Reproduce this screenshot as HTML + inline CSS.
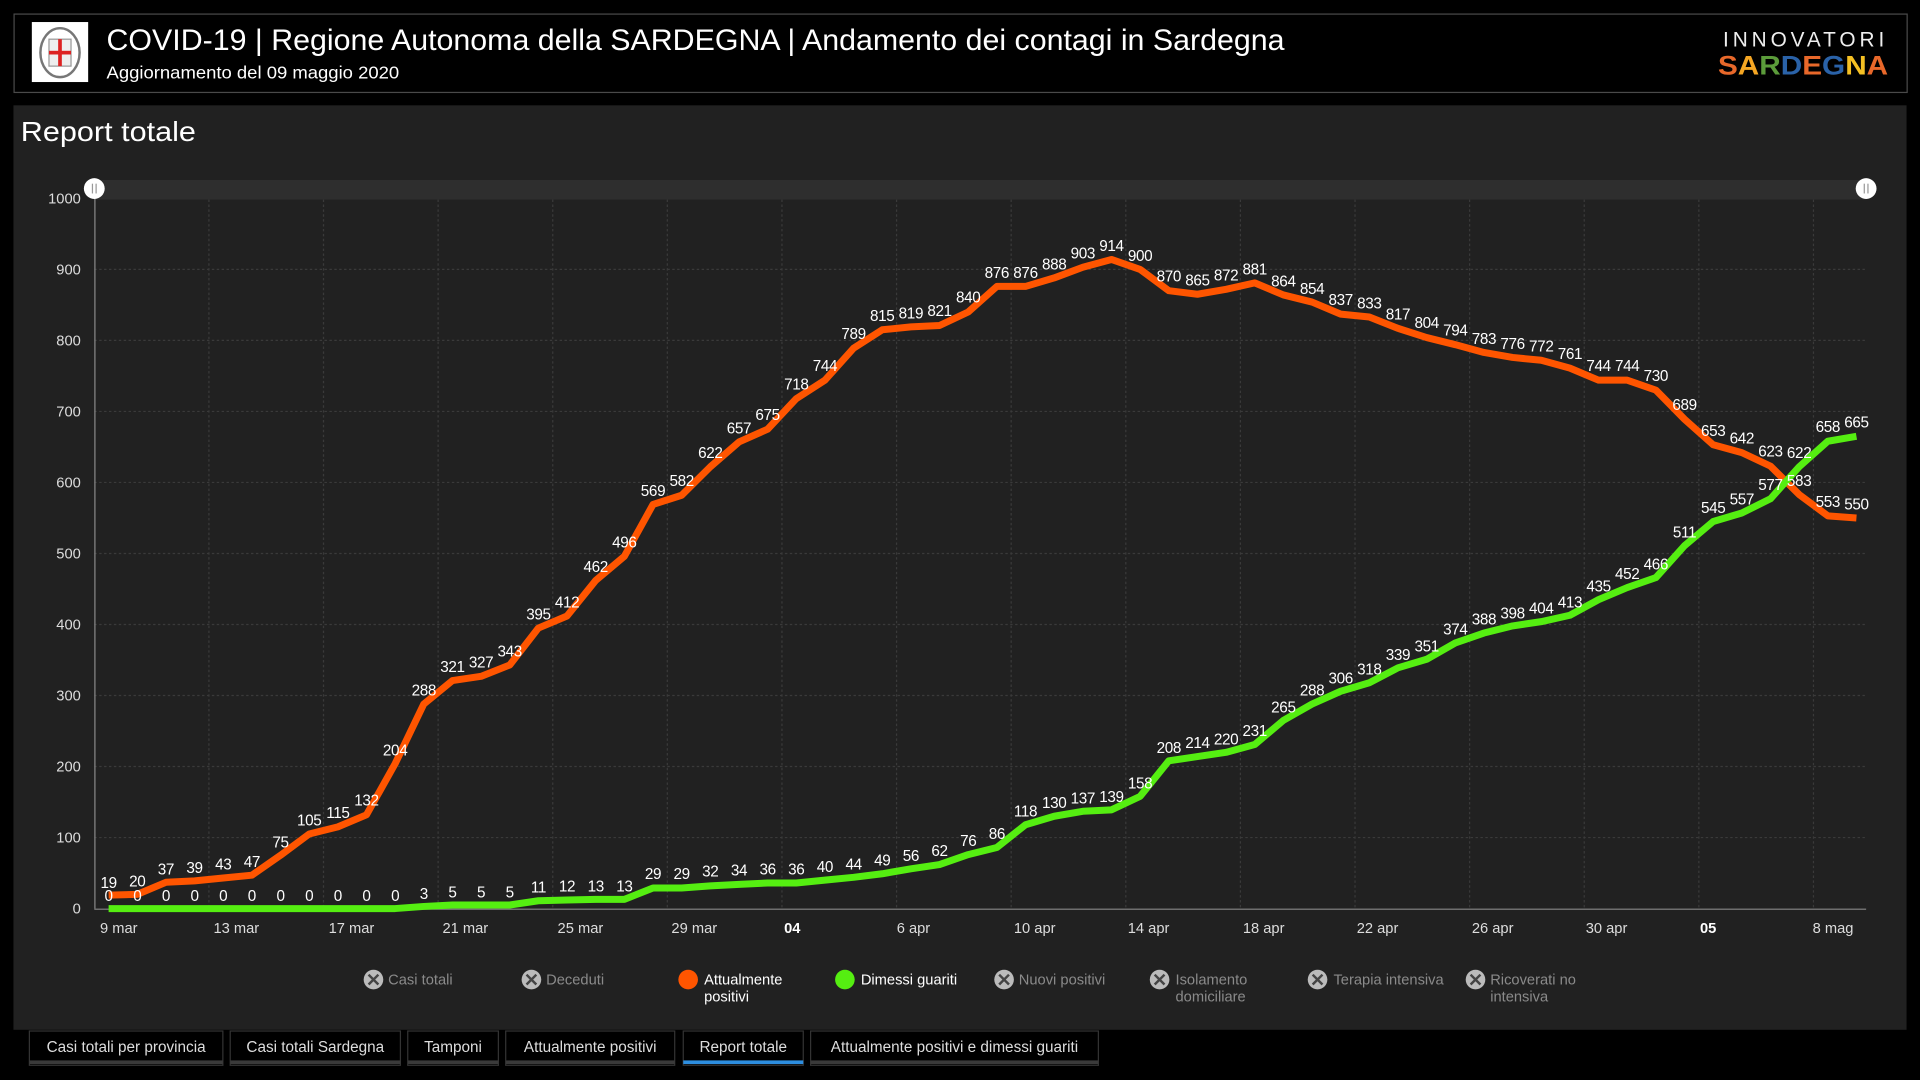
<!DOCTYPE html>
<html><head><meta charset="utf-8"><style>
html,body{margin:0;padding:0;background:#000;width:1920px;height:1080px;overflow:hidden}
svg{display:block}
text{font-family:"Liberation Sans",sans-serif}
.yl{font-size:12px;fill:#ddd;text-anchor:end}
.xl{font-size:12px;fill:#ddd;text-anchor:middle}
.dl text{font-size:12.5px;fill:#fff;text-anchor:middle;letter-spacing:-0.3px}
.lg{font-size:12px;fill:#8a8a8a}
.tab{font-size:12.5px;fill:#ddd;text-anchor:middle}
</style></head><body>
<svg width="1920" height="1080" viewBox="0 0 1568 882" preserveAspectRatio="none">
<rect width="1568" height="882" fill="#000"/>
<!-- header -->
<rect x="11.5" y="11.5" width="1546" height="64" fill="#000" stroke="#4a4a4a"/>
<rect x="26" y="18" width="46" height="49" fill="#fff"/>
<ellipse cx="49" cy="43" rx="16" ry="20" fill="none" stroke="#777" stroke-width="2"/>
<rect x="40" y="32" width="18" height="22" fill="#eee" stroke="#999"/>
<rect x="47.5" y="32" width="3" height="22" fill="#d22"/>
<rect x="40" y="41.5" width="18" height="3" fill="#d22"/>
<text x="87" y="41" font-size="24" fill="#fff" textLength="962" lengthAdjust="spacingAndGlyphs">COVID-19 | Regione Autonoma della SARDEGNA | Andamento dei contagi in Sardegna</text>
<text x="87" y="64" font-size="14" fill="#fff" textLength="239" lengthAdjust="spacingAndGlyphs">Aggiornamento del 09 maggio 2020</text>
<text x="1542" y="38" font-size="17" fill="#eee" text-anchor="end" letter-spacing="3.2">INNOVATORI</text>
<text x="1403" y="61" font-size="22" font-weight="bold" textLength="139" lengthAdjust="spacingAndGlyphs"><tspan fill="#e8682a">S</tspan><tspan fill="#f5a623">A</tspan><tspan fill="#5b9b3a">R</tspan><tspan fill="#2a62a8">D</tspan><tspan fill="#e8682a">E</tspan><tspan fill="#2a62a8">G</tspan><tspan fill="#f5c023">N</tspan><tspan fill="#e8682a">A</tspan></text>
<!-- panel -->
<rect x="11" y="86" width="1546" height="755" fill="#212121"/>
<text x="17" y="115" font-size="23" fill="#fff" textLength="143" lengthAdjust="spacingAndGlyphs">Report totale</text>
<!-- scrollbar -->
<rect x="77" y="147" width="1447" height="16" fill="#2e2e2e"/>
<!-- grid -->
<g stroke="#3a3a3a" stroke-width="1" stroke-dasharray="2,2">
<line x1="77" x2="1524" y1="220" y2="220"/><line x1="77" x2="1524" y1="278" y2="278"/>
<line x1="77" x2="1524" y1="336" y2="336"/><line x1="77" x2="1524" y1="394" y2="394"/>
<line x1="77" x2="1524" y1="452" y2="452"/><line x1="77" x2="1524" y1="510" y2="510"/>
<line x1="77" x2="1524" y1="568" y2="568"/><line x1="77" x2="1524" y1="626" y2="626"/>
<line x1="77" x2="1524" y1="684" y2="684"/>
<line x1="170.6" x2="170.6" y1="163" y2="742"/><line x1="264.2" x2="264.2" y1="163" y2="742"/>
<line x1="357.8" x2="357.8" y1="163" y2="742"/><line x1="451.4" x2="451.4" y1="163" y2="742"/>
<line x1="545" x2="545" y1="163" y2="742"/><line x1="638.6" x2="638.6" y1="163" y2="742"/>
<line x1="732.2" x2="732.2" y1="163" y2="742"/><line x1="825.8" x2="825.8" y1="163" y2="742"/>
<line x1="919.4" x2="919.4" y1="163" y2="742"/><line x1="1013" x2="1013" y1="163" y2="742"/>
<line x1="1106.6" x2="1106.6" y1="163" y2="742"/><line x1="1200.2" x2="1200.2" y1="163" y2="742"/>
<line x1="1293.8" x2="1293.8" y1="163" y2="742"/><line x1="1387.4" x2="1387.4" y1="163" y2="742"/>
<line x1="1481" x2="1481" y1="163" y2="742"/>
</g>
<line x1="77.5" x2="77.5" y1="162" y2="742" stroke="#888"/>
<line x1="77" x2="1524" y1="742.5" y2="742.5" stroke="#888"/>
<circle cx="77" cy="154" r="8.5" fill="#fff"/><line x1="75.5" x2="75.5" y1="150" y2="158" stroke="#999"/><line x1="78.5" x2="78.5" y1="150" y2="158" stroke="#999"/>
<circle cx="1524" cy="154" r="8.5" fill="#fff"/><line x1="1522.5" x2="1522.5" y1="150" y2="158" stroke="#999"/><line x1="1525.5" x2="1525.5" y1="150" y2="158" stroke="#999"/>
<!-- y labels -->
<text class="yl" x="66" y="166">1000</text><text class="yl" x="66" y="224">900</text>
<text class="yl" x="66" y="282">800</text><text class="yl" x="66" y="340">700</text>
<text class="yl" x="66" y="398">600</text><text class="yl" x="66" y="456">500</text>
<text class="yl" x="66" y="514">400</text><text class="yl" x="66" y="572">300</text>
<text class="yl" x="66" y="630">200</text><text class="yl" x="66" y="688">100</text>
<text class="yl" x="66" y="746">0</text>
<!-- x labels -->
<g class="xl">
<text x="97" y="762">9 mar</text><text x="193" y="762">13 mar</text><text x="287" y="762">17 mar</text>
<text x="380" y="762">21 mar</text><text x="474" y="762">25 mar</text><text x="567" y="762">29 mar</text>
<text x="647" y="762" font-weight="bold" fill="#fff">04</text><text x="746" y="762">6 apr</text>
<text x="845" y="762">10 apr</text><text x="938" y="762">14 apr</text><text x="1032" y="762">18 apr</text>
<text x="1125" y="762">22 apr</text><text x="1219" y="762">26 apr</text><text x="1312" y="762">30 apr</text>
<text x="1395" y="762" font-weight="bold" fill="#fff">05</text><text x="1497" y="762">8 mag</text>
</g>
<!-- series -->
<g transform="translate(88.7,742) scale(23.4,-0.58)" fill="none">
<polyline vector-effect="non-scaling-stroke" stroke="#ff5500" stroke-width="7" stroke-linejoin="round" points="0,19 1,20 2,37 3,39 4,43 5,47 6,75 7,105 8,115 9,132 10,204 11,288 12,321 13,327 14,343 15,395 16,412 17,462 18,496 19,569 20,582 21,622 22,657 23,675 24,718 25,744 26,789 27,815 28,819 29,821 30,840 31,876 32,876 33,888 34,903 35,914 36,900 37,870 38,865 39,872 40,881 41,864 42,854 43,837 44,833 45,817 46,804 47,794 48,783 49,776 50,772 51,761 52,744 53,744 54,730 55,689 56,653 57,642 58,623 59,583 60,553 61,550"/>
<polyline vector-effect="non-scaling-stroke" stroke="#55ee11" stroke-width="7" stroke-linejoin="round" points="0,0 1,0 2,0 3,0 4,0 5,0 6,0 7,0 8,0 9,0 10,0 11,3 12,5 13,5 14,5 15,11 16,12 17,13 18,13 19,29 20,29 21,32 22,34 23,36 24,36 25,40 26,44 27,49 28,56 29,62 30,76 31,86 32,118 33,130 34,137 35,139 36,158 37,208 38,214 39,220 40,231 41,265 42,288 43,306 44,318 45,339 46,351 47,374 48,388 49,398 50,404 51,413 52,435 53,452 54,466 55,511 56,545 57,557 58,577 59,622 60,658 61,665"/>
</g>
<!-- orange labels -->
<g class="dl">
<text x="88.7" y="725">19</text><text x="112.1" y="724">20</text><text x="135.5" y="714">37</text><text x="158.9" y="713">39</text><text x="182.3" y="710">43</text><text x="205.7" y="708">47</text><text x="229.1" y="692">75</text><text x="252.5" y="674">105</text><text x="275.9" y="668">115</text><text x="299.3" y="658">132</text><text x="322.7" y="617">204</text><text x="346.1" y="568">288</text><text x="369.5" y="549">321</text><text x="392.9" y="545">327</text><text x="416.3" y="536">343</text><text x="439.7" y="506">395</text><text x="463.1" y="496">412</text><text x="486.5" y="467">462</text><text x="509.9" y="447">496</text><text x="533.3" y="405">569</text><text x="556.7" y="397">582</text><text x="580.1" y="374">622</text><text x="603.5" y="354">657</text><text x="626.9" y="343">675</text><text x="650.3" y="318">718</text><text x="673.7" y="303">744</text><text x="697.1" y="277">789</text><text x="720.5" y="262">815</text><text x="743.9" y="260">819</text><text x="767.3" y="258">821</text><text x="790.7" y="247">840</text><text x="814.1" y="227">876</text><text x="837.5" y="227">876</text><text x="860.9" y="220">888</text><text x="884.3" y="211">903</text><text x="907.7" y="205">914</text><text x="931.1" y="213">900</text><text x="954.5" y="230">870</text><text x="977.9" y="233">865</text><text x="1001.3" y="229">872</text><text x="1024.7" y="224">881</text><text x="1048.1" y="234">864</text><text x="1071.5" y="240">854</text><text x="1094.9" y="249">837</text><text x="1118.3" y="252">833</text><text x="1141.7" y="261">817</text><text x="1165.1" y="268">804</text><text x="1188.5" y="274">794</text><text x="1211.9" y="281">783</text><text x="1235.3" y="285">776</text><text x="1258.7" y="287">772</text><text x="1282.1" y="293">761</text><text x="1305.5" y="303">744</text><text x="1328.9" y="303">744</text><text x="1352.3" y="311">730</text><text x="1375.7" y="335">689</text><text x="1399.1" y="356">653</text><text x="1422.5" y="362">642</text><text x="1445.9" y="373">623</text><text x="1469.3" y="397">583</text><text x="1492.7" y="414">553</text><text x="1516.1" y="416">550</text>
</g>
<!-- green labels -->
<g class="dl">
<text x="88.7" y="736">0</text><text x="112.1" y="736">0</text><text x="135.5" y="736">0</text><text x="158.9" y="736">0</text><text x="182.3" y="736">0</text><text x="205.7" y="736">0</text><text x="229.1" y="736">0</text><text x="252.5" y="736">0</text><text x="275.9" y="736">0</text><text x="299.3" y="736">0</text><text x="322.7" y="736">0</text><text x="346.1" y="734">3</text><text x="369.5" y="733">5</text><text x="392.9" y="733">5</text><text x="416.3" y="733">5</text><text x="439.7" y="729">11</text><text x="463.1" y="728">12</text><text x="486.5" y="728">13</text><text x="509.9" y="728">13</text><text x="533.3" y="718">29</text><text x="556.7" y="718">29</text><text x="580.1" y="716">32</text><text x="603.5" y="715">34</text><text x="626.9" y="714">36</text><text x="650.3" y="714">36</text><text x="673.7" y="712">40</text><text x="697.1" y="710">44</text><text x="720.5" y="707">49</text><text x="743.9" y="703">56</text><text x="767.3" y="699">62</text><text x="790.7" y="691">76</text><text x="814.1" y="685">86</text><text x="837.5" y="667">118</text><text x="860.9" y="660">130</text><text x="884.3" y="656">137</text><text x="907.7" y="655">139</text><text x="931.1" y="644">158</text><text x="954.5" y="615">208</text><text x="977.9" y="611">214</text><text x="1001.3" y="608">220</text><text x="1024.7" y="601">231</text><text x="1048.1" y="582">265</text><text x="1071.5" y="568">288</text><text x="1094.9" y="558">306</text><text x="1118.3" y="551">318</text><text x="1141.7" y="539">339</text><text x="1165.1" y="532">351</text><text x="1188.5" y="518">374</text><text x="1211.9" y="510">388</text><text x="1235.3" y="505">398</text><text x="1258.7" y="501">404</text><text x="1282.1" y="496">413</text><text x="1305.5" y="483">435</text><text x="1328.9" y="473">452</text><text x="1352.3" y="465">466</text><text x="1375.7" y="439">511</text><text x="1399.1" y="419">545</text><text x="1422.5" y="412">557</text><text x="1445.9" y="400">577</text><text x="1469.3" y="374">622</text><text x="1492.7" y="353">658</text><text x="1516.1" y="349">665</text>
</g>
<!-- legend -->
<g>
<circle cx="305" cy="800" r="8" fill="#bbb"/><path d="M301,796 L309,804 M309,796 L301,804" stroke="#444" stroke-width="2"/>
<text class="lg" x="317" y="804">Casi totali</text>
<circle cx="434" cy="800" r="8" fill="#bbb"/><path d="M430,796 L438,804 M438,796 L430,804" stroke="#444" stroke-width="2"/>
<text class="lg" x="446" y="804">Deceduti</text>
<circle cx="562" cy="800" r="8" fill="#ff5500"/>
<text class="lg" x="575" y="804" style="fill:#fff">Attualmente</text><text class="lg" x="575" y="818" style="fill:#fff">positivi</text>
<circle cx="690" cy="800" r="8" fill="#55ee11"/>
<text class="lg" x="703" y="804" style="fill:#fff">Dimessi guariti</text>
<circle cx="820" cy="800" r="8" fill="#bbb"/><path d="M816,796 L824,804 M824,796 L816,804" stroke="#444" stroke-width="2"/>
<text class="lg" x="832" y="804">Nuovi positivi</text>
<circle cx="947" cy="800" r="8" fill="#bbb"/><path d="M943,796 L951,804 M951,796 L943,804" stroke="#444" stroke-width="2"/>
<text class="lg" x="960" y="804">Isolamento</text><text class="lg" x="960" y="818">domiciliare</text>
<circle cx="1076" cy="800" r="8" fill="#bbb"/><path d="M1072,796 L1080,804 M1080,796 L1072,804" stroke="#444" stroke-width="2"/>
<text class="lg" x="1089" y="804">Terapia intensiva</text>
<circle cx="1205" cy="800" r="8" fill="#bbb"/><path d="M1201,796 L1209,804 M1209,796 L1201,804" stroke="#444" stroke-width="2"/>
<text class="lg" x="1217" y="804">Ricoverati no</text><text class="lg" x="1217" y="818">intensiva</text>
</g>
<!-- tabs -->
<g>
<rect x="24" y="842" width="158" height="28" fill="#000" stroke="#333"/><rect x="24" y="866" width="158" height="3" fill="#3a3a3a"/><text class="tab" x="103" y="859">Casi totali per provincia</text>
<rect x="188" y="842" width="139" height="28" fill="#000" stroke="#333"/><rect x="188" y="866" width="139" height="3" fill="#3a3a3a"/><text class="tab" x="257.5" y="859">Casi totali Sardegna</text>
<rect x="333" y="842" width="74" height="28" fill="#000" stroke="#333"/><rect x="333" y="866" width="74" height="3" fill="#3a3a3a"/><text class="tab" x="370" y="859">Tamponi</text>
<rect x="413" y="842" width="138" height="28" fill="#000" stroke="#333"/><rect x="413" y="866" width="138" height="3" fill="#3a3a3a"/><text class="tab" x="482" y="859">Attualmente positivi</text>
<rect x="558" y="842" width="98" height="28" fill="#000" stroke="#333"/><rect x="558" y="866" width="98" height="3" fill="#2d8ee0"/><text class="tab" x="607" y="859">Report totale</text>
<rect x="662" y="842" width="235" height="28" fill="#000" stroke="#333"/><rect x="662" y="866" width="235" height="3" fill="#3a3a3a"/><text class="tab" x="779.5" y="859">Attualmente positivi e dimessi guariti</text>
</g>
</svg>
</body></html>
